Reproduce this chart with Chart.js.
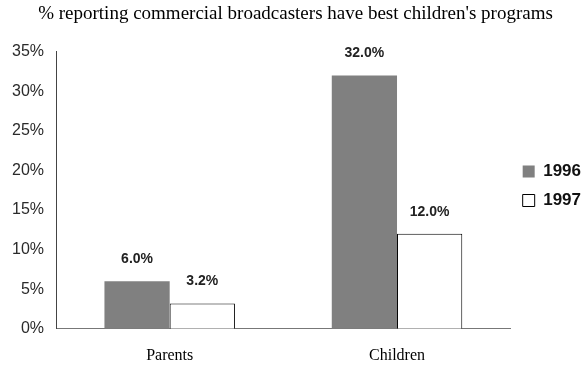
<!DOCTYPE html>
<html>
<head>
<meta charset="utf-8">
<script src="https://cdn.jsdelivr.net/npm/chart.js@4"></script>
<style>
  html, body { margin: 0; padding: 0; background: #fff; }
  #wrap { width: 586px; height: 371px; }
</style>
</head>
<body>
<div id="wrap"><canvas id="grafico"></canvas></div>
<script>
const categorias = ['Parents', 'Children'];
const serie1996 = [6.0, 32.0];
const serie1997 = [3.2, 12.0];
const ticksY = [0, 5, 10, 15, 20, 25, 30, 35];

// etiquetas de valor encima de cada barra
const etiquetasValor = {
  id: 'etiquetasValor',
  afterDatasetsDraw(chart) {
    const ctx = chart.ctx;
    ctx.save();
    ctx.font = 'bold 14px "Liberation Sans", Arial, sans-serif';
    ctx.fillStyle = '#222';
    ctx.textAlign = 'center';
    ctx.textBaseline = 'middle';
    chart.data.datasets.forEach((ds, i) => {
      chart.getDatasetMeta(i).data.forEach((bar, j) => {
        ctx.fillText(ds.data[j].toFixed(1) + '%', bar.x, bar.y - 22);
      });
    });
    ctx.restore();
  }
};

// sube un poco la leyenda
const subirLeyenda = {
  id: 'subirLeyenda',
  afterLayout(chart) {
    chart.legend.top -= 5;
    chart.legend.bottom -= 5;
  }
};

new Chart(document.getElementById('grafico'), {
  type: 'bar',
  data: {
    labels: categorias,
    datasets: [{
      label: '1996',
      data: serie1996,
      backgroundColor: '#808080',
      borderWidth: 0
    }, {
      label: '1997',
      data: serie1997,
      backgroundColor: '#ffffff',
      borderColor: '#000000',
      borderWidth: 1
    }]
  },
  options: {
    responsive: true,
    maintainAspectRatio: false,
    animation: false,
    layout: { padding: { left: 0, right: -5, top: 0, bottom: -11 } },
    datasets: {
      bar: { categoryPercentage: 0.574, barPercentage: 1.0 }
    },
    scales: {
      x: {
        grid: { display: false, drawTicks: false },
        border: { display: true, color: '#777', width: 1 },
        ticks: {
          color: '#000',
          padding: 17,
          font: { family: '"Liberation Serif", "Times New Roman", serif', size: 16 }
        }
      },
      y: {
        min: 0,
        max: 35,
        afterBuildTicks(axis) {
          axis.ticks = ticksY.map(v => ({ value: v }));
        },
        grid: { display: false, drawTicks: false },
        border: { display: true, color: '#444', width: 1 },
        ticks: {
          color: '#2a2a2a',
          padding: 12,
          callback: v => v + '%',
          font: { family: '"Liberation Sans", Arial, sans-serif', size: 16 }
        }
      }
    },
    plugins: {
      title: {
        display: true,
        text: "% reporting commercial broadcasters have best children's programs",
        color: '#000',
        padding: { top: 3, bottom: 26 },
        font: { family: '"Liberation Serif", "Times New Roman", serif', size: 19, weight: 'normal' }
      },
      legend: {
        position: 'right',
        labels: {
          color: '#111',
          boxWidth: 12,
          boxHeight: 12,
          padding: 12,
          font: { family: '"Liberation Sans", Arial, sans-serif', size: 17, weight: 'bold' }
        }
      },
      tooltip: { enabled: false }
    }
  },
  plugins: [etiquetasValor, subirLeyenda]
});
</script>
</body>
</html>
